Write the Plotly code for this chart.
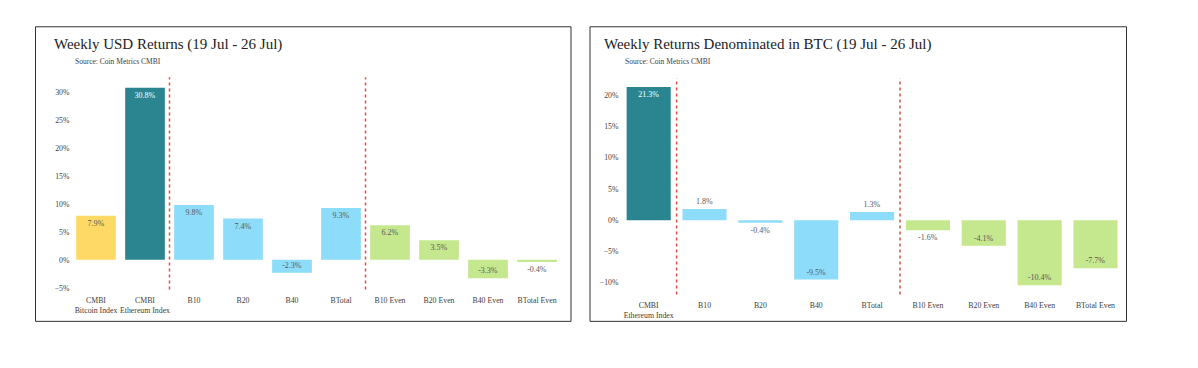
import plotly.graph_objects as go

# ---------------- data ----------------
usd_categories = ["CMBI<br>Bitcoin Index", "CMBI<br>Ethereum Index", "B10", "B20", "B40", "BTotal",
                  "B10 Even", "B20 Even", "B40 Even", "BTotal Even"]
usd_values = [7.9, 30.8, 9.8, 7.4, -2.3, 9.3, 6.2, 3.5, -3.3, -0.4]
usd_groups = ["btc", "eth", "b", "b", "b", "b", "even", "even", "even", "even"]

btc_categories = ["CMBI<br>Ethereum Index", "B10", "B20", "B40", "BTotal",
                  "B10 Even", "B20 Even", "B40 Even", "BTotal Even"]
btc_values = [21.3, 1.8, -0.4, -9.5, 1.3, -1.6, -4.1, -10.4, -7.7]
btc_groups = ["eth", "b", "b", "b", "b", "even", "even", "even", "even"]

usd_dividers = [1.5, 5.5]
btc_dividers = [0.5, 4.5]

usd_title = "Weekly USD Returns (19 Jul - 26 Jul)"
btc_title = "Weekly Returns Denominated in BTC (19 Jul - 26 Jul)"
source_text = "Source: Coin Metrics CMBI"

# ---------------- style ----------------
W, H = 1198, 368
FONT = "Liberation Serif"
group_colors = {"btc": "#FFD966", "eth": "#2B8590", "b": "#8DDCF9", "even": "#C5E78E"}
group_text = {"btc": "#595959", "eth": "#FFFFFF", "b": "#595959", "even": "#595959"}
INSIDE_MIN = 2.0  # bars shorter than this get their label outside


def px(x):
    return x / W


def py(y):
    return 1 - y / H


fig = go.Figure()

for vals, cats, groups, xa, ya, bw in [
    (usd_values, usd_categories, usd_groups, "x", "y", 0.81),
    (btc_values, btc_categories, btc_groups, "x2", "y2", 0.79),
]:
    fig.add_trace(go.Bar(
        x=cats, y=vals, xaxis=xa, yaxis=ya, width=bw,
        marker=dict(color=[group_colors[g] for g in groups], line=dict(width=0)),
        text=[f"{v:.1f}%" for v in vals],
        textposition=["inside" if abs(v) >= INSIDE_MIN else "outside" for v in vals],
        insidetextanchor="end", constraintext="none",
        insidetextfont=dict(family=FONT, size=8, color=[group_text[g] for g in groups]),
        outsidetextfont=dict(family=FONT, size=8, color="#595959"),
        textangle=0, cliponaxis=False, showlegend=False, hoverinfo="skip",
    ))

axis_common = dict(showgrid=False, zeroline=False, showline=False,
                   tickfont=dict(family=FONT, size=7.8, color="#404040"),
                   ticks="outside", ticklen=3, tickcolor="rgba(0,0,0,0)")

L_x0, L_x1, L_y0, L_y1 = 75, 562, 78, 292
R_x0, R_x1, R_y0, R_y1 = 624, 1122, 79, 297

fig.update_layout(
    width=W, height=H, autosize=False,
    margin=dict(l=0, r=0, t=0, b=0),
    paper_bgcolor="white", plot_bgcolor="white",
    font=dict(family=FONT, color="#404040"),
    xaxis=dict(domain=[px(L_x0), px(L_x1)], range=[-0.4286, 9.51], type="category",
               anchor="y", tickangle=0, **axis_common),
    yaxis=dict(domain=[py(L_y1), py(L_y0)], range=[-5.33, 32.67], dtick=5, ticksuffix="%",
               anchor="x", **axis_common),
    xaxis2=dict(domain=[px(R_x0), px(R_x1)], range=[-0.442, 8.475], type="category",
                anchor="y2", tickangle=0, **axis_common),
    yaxis2=dict(domain=[py(R_y1), py(R_y0)], range=[-11.9, 22.7], dtick=5, ticksuffix="%",
                anchor="x2", **axis_common),
)

shapes = []
for x0, x1 in [(35.5, 571), (590, 1126.5)]:
    shapes.append(dict(type="rect", xref="paper", yref="paper",
                       x0=px(x0), x1=px(x1), y0=py(324), y1=py(27),
                       line=dict(color="#333333", width=1), fillcolor="rgba(0,0,0,0)"))
for xs, xr, yr in [(usd_dividers, "x", "y domain"), (btc_dividers, "x2", "y2 domain")]:
    for d in xs:
        shapes.append(dict(type="line", xref=xr, yref=yr, x0=d, x1=d, y0=0, y1=1,
                           line=dict(color="#E0504A", width=1.5, dash="dot")))
fig.update_layout(shapes=shapes)

annotations = []
for title, tx, sx in [(usd_title, 52, 72.5), (btc_title, 601.5, 622.5)]:
    annotations.append(dict(text=title, xref="paper", yref="paper", x=px(tx), y=py(45),
                            xanchor="left", yanchor="middle", showarrow=False,
                            font=dict(family=FONT, size=15, color="#222222")))
    annotations.append(dict(text=source_text, xref="paper", yref="paper", x=px(sx), y=py(62.5),
                            xanchor="left", yanchor="middle", showarrow=False,
                            font=dict(family=FONT, size=7.5, color="#404040")))
fig.update_layout(annotations=annotations)

fig.write_html("out.html", config={"displayModeBar": False},
               post_script="document.body.style.margin='0';")
